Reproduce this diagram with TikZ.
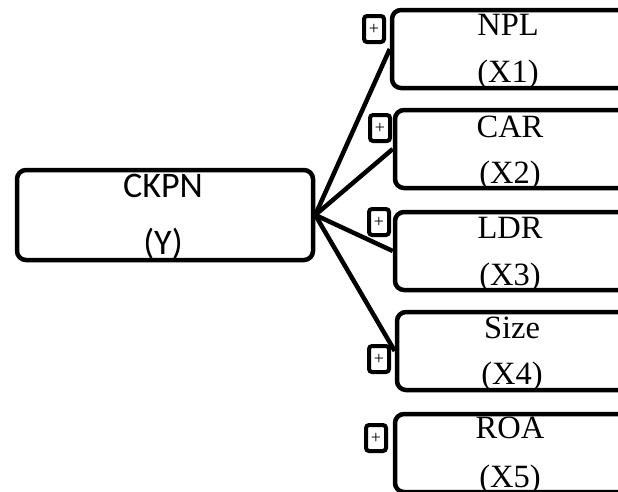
\documentclass[tikz,border=0pt]{standalone}
\usepackage{fontspec}
\setmainfont{Liberation Serif}
\newfontfamily\calfont{Carlito}
\usetikzlibrary{positioning}

\begin{document}
\begin{tikzpicture}[
  x=1pt, y=-1pt,
  box/.style={draw, line width=4.5pt, rounded corners=9pt, minimum height=78, inner sep=0pt},
  plusbox/.style={draw, line width=4pt, rounded corners=3pt, minimum width=20, minimum height=26, inner sep=0pt, font=\fontsize{18}{18}\selectfont},
  lbl/.style={anchor=base, inner sep=0pt, font=\fontsize{32.5}{32.5}\selectfont},
  conn/.style={line width=4.5pt},
]
\useasboundingbox (0,0) rectangle (618,491);
\clip (0,0) rectangle (618,491);
% dependent variable
\node[box, minimum width=296, minimum height=90] (ckpn) at (165,215) {};
\node[lbl, font=\calfont\fontsize{36}{36}\selectfont] (ckpnt) at (163,197) {CKPN};
\node[lbl, font=\calfont\fontsize{36}{36}\selectfont] (ckpny) at (163,254) {(Y)};
% independent variables
\node[box, minimum width=240] (npl)  at (512,49)  {};
\node[box, minimum width=240] (car)  at (515,149) {};
\node[box, minimum width=240] (ldr)  at (515,251) {};
\node[box, minimum width=240] (size) at (517,351) {};
\node[box, minimum width=240] (roa)  at (515,453) {};
\node[lbl] (nplt)  at (508,35)  {NPL};
\node[lbl] (nplx)  at (508,82)  {(X1)};
\node[lbl] (cart)  at (510,137) {CAR};
\node[lbl] (carx)  at (510,183) {(X2)};
\node[lbl] (ldrt)  at (510,238) {LDR};
\node[lbl] (ldrx)  at (510,285) {(X3)};
\node[lbl] (sizet) at (512,338) {Size};
\node[lbl] (sizex) at (512,384) {(X4)};
\node[lbl] (roat)  at (510,438) {ROA};
\node[lbl] (roax)  at (510,487) {(X5)};
% signs
\node[plusbox] (p1) at (374,29)  {+};
\node[plusbox] (p2) at (380,128) {+};
\node[plusbox] (p3) at (379,222) {+};
\node[plusbox] (p4) at (379,359) {+};
\node[plusbox] (p5) at (376,438) {+};
% paths
\draw[conn] (ckpn.east) -- (npl.west);
\draw[conn] (ckpn.east) -- (car.west);
\draw[conn] (ckpn.east) -- (ldr.west);
\draw[conn] (ckpn.east) -- (size.west);
\end{tikzpicture}
\end{document}
